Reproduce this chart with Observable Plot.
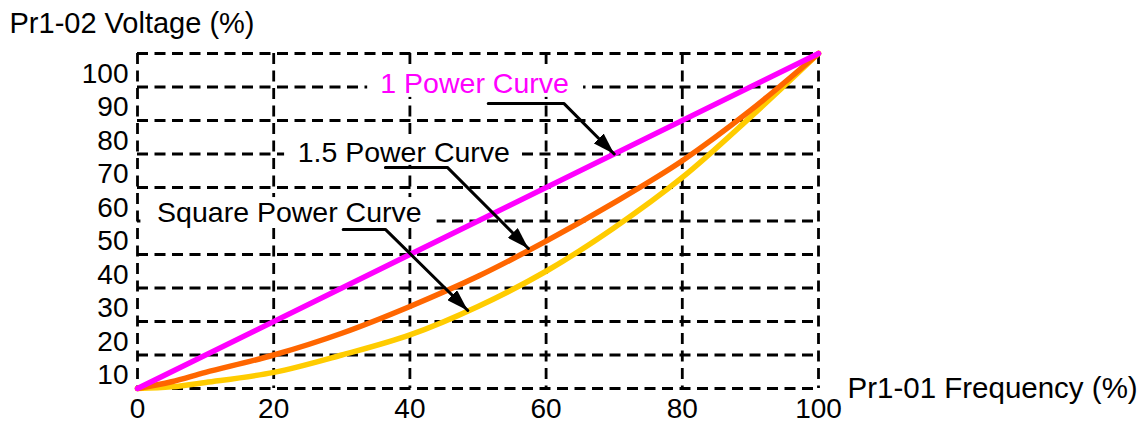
<!DOCTYPE html>
<html><head><meta charset="utf-8">
<script src="https://cdn.jsdelivr.net/npm/d3@7"></script>
<script src="https://cdn.jsdelivr.net/npm/@observablehq/plot@0.6"></script>
<style>body{margin:0;background:#fff} svg{display:block}</style>
</head><body><div id="chart"></div>
<script>
// ---- data ----
const xTicks = [0, 20, 40, 60, 80, 100];
const yTickLabels = [10, 20, 30, 40, 50, 60, 70, 80, 90, 100];
const yGrid = [0, 10, 20, 30, 40, 50, 60, 70, 80, 90, 100];

const freq1 = [0, 100];
const volt1 = [0, 100];

const freq15 = [0, 5, 10, 20, 30, 40, 50, 60, 70, 80, 90, 100];
const volt15 = [0, 2, 4.8, 10, 16.5, 24.5, 33.5, 44, 55.5, 68, 83, 100];

const freqSq = [0, 5, 10, 20, 30, 40, 50, 60, 70, 80, 90, 100];
const voltSq = [0, 0.5, 1.8, 4.8, 10, 16, 24.5, 35, 48, 63, 81, 100];

const curveNames = ["1 Power Curve", "1.5 Power Curve", "Square Power Curve"];
const curveColors = ["#FF00FF", "#FF6600", "#FFCC00"];
const labelColors = ["#FF00FF", "#000000", "#000000"];

// annotation anchors (data units)
const labelX = [49.5, 39.1, 22.3];
const labelY = [91, 70.4, 52.5];
const bgX1 = [33.8, 21.6, 0.5];
const bgX2 = [65.5, 56.4, 44];
const bgY1 = [86.9, 66.6, 48.4];
const bgY2 = [95.8, 74.9, 57];
const leaders = [
  [[51.5, 85.1], [62.6, 85.1], [70, 70]],
  [[36.4, 66], [45.5, 66], [57.4, 41.8]],
  [[30.2, 47.5], [36.4, 47.5], [48.5, 23.3]]
];

const font = "Arial, 'Liberation Sans', Helvetica, sans-serif";

function filledArrow(color) {
  const m = d3.create("svg:marker")
    .attr("viewBox", "-22 -7 22 14")
    .attr("markerWidth", 22).attr("markerHeight", 14)
    .attr("markerUnits", "userSpaceOnUse")
    .attr("orient", "auto")
    .attr("fill", "black").attr("stroke", "none");
  m.append("path").attr("d", "M0,0L-22,-7L-22,7Z");
  return m.node();
}

const dash = "11,6.5";
const gridW = 2.8;

const chart = Plot.plot({
  width: 1141, height: 423,
  marginLeft: 137, marginRight: 323, marginTop: 53, marginBottom: 35,
  x: {domain: [0, 100]},
  y: {domain: [0, 100]},
  style: {fontFamily: font, background: "white", color: "black"},
  marks: [
    Plot.ruleY(yGrid, {x1: 0, x2: 100, y: d => d, stroke: "black", strokeWidth: gridW, strokeDasharray: dash}),
    Plot.ruleX(xTicks, {y1: 100, y2: 0, x: d => d, stroke: "black", strokeWidth: gridW, strokeDasharray: dash}),
    Plot.rect(curveNames, {x1: bgX1, x2: bgX2, y1: bgY1, y2: bgY2, fill: "white"}),
    Plot.line(voltSq, {x: freqSq, y: voltSq, curve: "catmull-rom", stroke: curveColors[2], strokeWidth: 5.5, strokeLinecap: "round"}),
    Plot.line(volt15, {x: freq15, y: volt15, curve: "catmull-rom", stroke: curveColors[1], strokeWidth: 5.5, strokeLinecap: "round"}),
    Plot.line(volt1, {x: freq1, y: volt1, stroke: curveColors[0], strokeWidth: 5.5, strokeLinecap: "round"}),
    Plot.text(curveNames, {x: labelX, y: labelY, text: d => d, fill: (d, i) => labelColors[i], fontSize: 28.5, textAnchor: "middle", lineAnchor: "middle"}),
    ...leaders.map(pts => Plot.line(pts, {x: d => d[0], y: d => d[1], stroke: "black", strokeWidth: 3, markerEnd: filledArrow})),
    Plot.axisY(yTickLabels, {tickSize: 0, tickPadding: 9, dy: 20.5, fontSize: 28, label: null}),
    Plot.axisX(xTicks, {tickSize: 0, tickPadding: 10, fontSize: 28, label: null}),
    Plot.text(["Pr1-02 Voltage (%)"], {frameAnchor: "top-left", dx: -128, dy: -30, textAnchor: "start", lineAnchor: "middle", fontSize: 29}),
    Plot.text(["Pr1-01 Frequency (%)"], {frameAnchor: "bottom-right", dx: 29, dy: 0, textAnchor: "start", lineAnchor: "middle", fontSize: 29.5})
  ]
});
document.getElementById("chart").appendChild(chart);
</script>
</body></html>
